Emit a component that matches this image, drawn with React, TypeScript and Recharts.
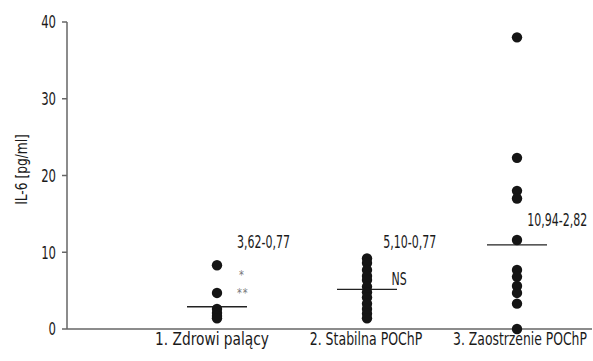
import React from "react";
import { ComposedChart, Scatter, XAxis, YAxis, ReferenceLine, Label } from "recharts";

const categories = ["1. Zdrowi palący", "2. Stabilna POChP", "3. Zaostrzenie POChP"];
const categoryPositions = [1, 2, 3];
const group1Values = [8.3, 4.7, 2.6, 2.1, 1.7, 1.4];
const group2Values = [9.2, 8.6, 7.7, 6.9, 6.4, 5.5, 4.8, 4.1, 3.3, 2.6, 2.0, 1.4];
const group3Values = [38.0, 22.3, 18.0, 17.0, 11.6, 7.7, 6.8, 5.6, 4.7, 3.3, 0.0];
const groupMeans = [2.9, 5.15, 10.95];
const yTicks = [0, 10, 20, 30, 40];
const annotationTexts = ["3,62-0,77", "*", "**", "5,10-0,77", "NS", "10,94-2,82"];
const annotationX = [1.133, 1.147, 1.133, 2.109, 2.164, 3.069];
const annotationY = [11.4, 7.0, 4.7, 11.4, 6.6, 14.2];

const FONT = "'DejaVu Sans Condensed', 'DejaVu Sans', sans-serif";
const labelShift = [-5, -1, 3];
const labelScale = [0.9, 0.82, 0.81];

const groups = [group1Values, group2Values, group3Values];
const points = groups.flatMap((vals, i) => vals.map((v) => ({ x: categoryPositions[i], y: v })));
const annotations = annotationTexts.map((t, i) => ({ x: annotationX[i], y: annotationY[i], text: t }));

const Dot = (props: any) => {
  const { cx, cy } = props;
  return <circle cx={cx} cy={cy} r={5.2} fill="#151515" />;
};

const AnnText = (props: any) => {
  const { cx, cy, payload } = props;
  const small = payload.text.startsWith("*");
  return (
    <text
      x={0}
      y={0}
      transform={`translate(${cx},${cy}) scale(${small ? 0.9 : 0.72},1)`}
      dominantBaseline="central"
      textAnchor="start"
      fontFamily={FONT}
      fontSize={small ? 12 : 17}
      fill={small ? "#777" : "#1a1a1a"}
      letterSpacing={small ? 1 : 0}
    >
      {payload.text}
    </text>
  );
};

const XTick = (props: any) => {
  const { x, y, payload } = props;
  const idx = categoryPositions.indexOf(payload.value);
  return (
    <text
      x={0}
      y={0}
      transform={`translate(${x + labelShift[idx]},${y + 8}) scale(${labelScale[idx]},1)`}
      textAnchor="middle"
      fontFamily={FONT}
      fontSize={17}
      fill="#1a1a1a"
    >
      {categories[idx]}
    </text>
  );
};

const YTick = (props: any) => {
  const { x, y, payload } = props;
  return (
    <text
      x={0}
      y={0}
      transform={`translate(${x},${y}) scale(0.72,1)`}
      textAnchor="end"
      dominantBaseline="central"
      fontFamily={FONT}
      fontSize={18}
      fill="#1a1a1a"
    >
      {payload.value}
    </text>
  );
};

const YLabel = (props: any) => {
  const { viewBox } = props;
  const cx = viewBox.x + 21;
  const cy = viewBox.y + viewBox.height / 2 - 6;
  return (
    <text
      x={0}
      y={0}
      transform={`translate(${cx},${cy}) rotate(-90) scale(0.85,1)`}
      textAnchor="middle"
      dominantBaseline="central"
      fontFamily={FONT}
      fontSize={16}
      fill="#1a1a1a"
    >
      IL-6 [pg/ml]
    </text>
  );
};

export default function App() {
  return (
    <div style={{ position: "absolute", left: 0, top: 0, background: "#fff" }}>
      <ComposedChart width={593} height={361} margin={{ top: 22, right: 1, bottom: 0, left: 0 }}>
        <XAxis
          type="number"
          dataKey="x"
          domain={[0, 3.5]}
          ticks={categoryPositions}
          tick={<XTick />}
          tickLine={false}
          axisLine={{ stroke: "#666", strokeWidth: 1.5 }}
          height={32}
          allowDataOverflow
        />
        <YAxis
          type="number"
          dataKey="y"
          domain={[0, 40]}
          ticks={yTicks}
          width={67}
          tickSize={5}
          tickMargin={6}
          tickLine={{ stroke: "#666", strokeWidth: 1.5 }}
          axisLine={{ stroke: "#666", strokeWidth: 1.5 }}
          tick={<YTick />}
        >
          <Label content={<YLabel />} position="insideLeft" />
        </YAxis>
        {groupMeans.map((m, i) => (
          <ReferenceLine
            key={i}
            segment={[
              { x: categoryPositions[i] - 0.2, y: m },
              { x: categoryPositions[i] + 0.2, y: m },
            ]}
            stroke="#222"
            strokeWidth={1.3}
          />
        ))}
        <Scatter data={points} shape={<Dot />} isAnimationActive={false} />
        <Scatter data={annotations} shape={<AnnText />} isAnimationActive={false} />
      </ComposedChart>
    </div>
  );
}
